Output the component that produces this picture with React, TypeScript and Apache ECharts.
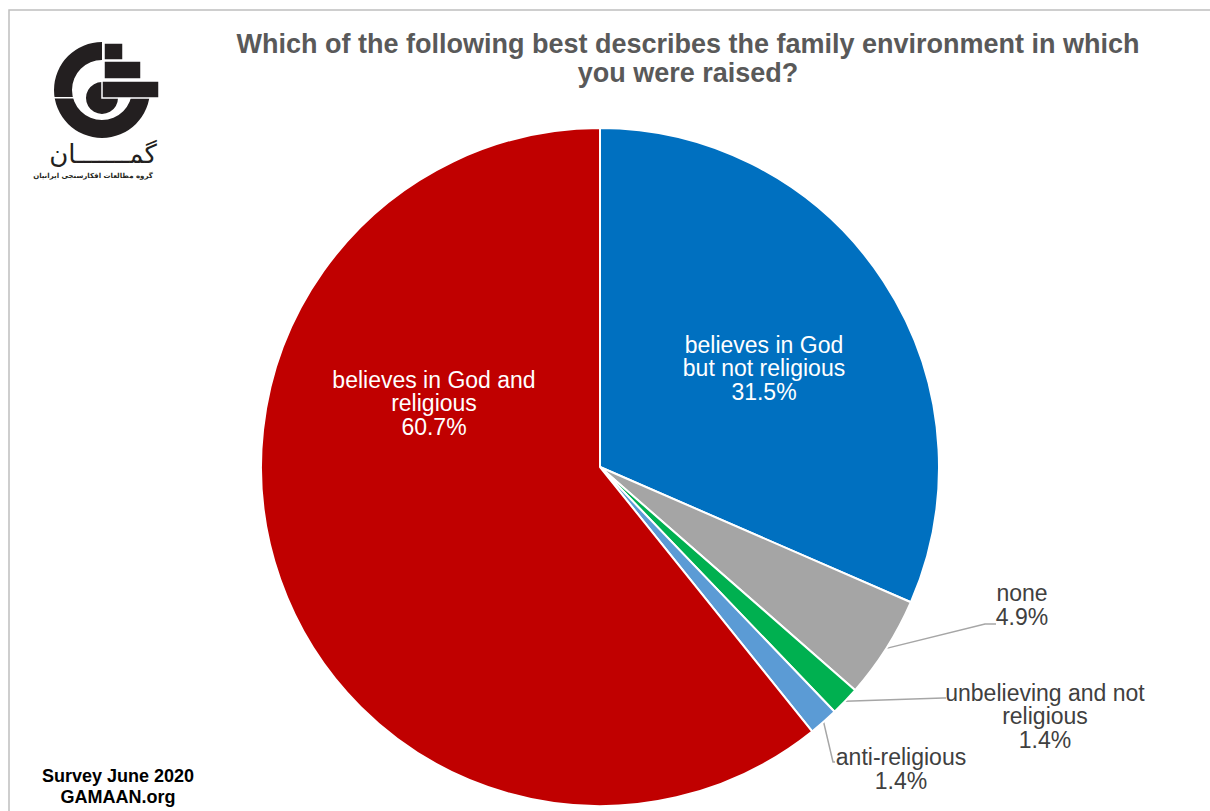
import React, { useEffect, useRef } from "react";
import * as echarts from "echarts";

const categories = [
  "believes in God but not religious",
  "none",
  "unbelieving and not religious",
  "anti-religious",
  "believes in God and religious",
];
const values = [31.5, 4.9, 1.4, 1.4, 60.7];
const labelTexts = [
  "believes in God\nbut not religious",
  "none",
  "unbelieving and not\nreligious",
  "anti-religious",
  "believes in God and\nreligious",
];
const colors = ["#0070C0", "#A5A5A5", "#00B050", "#5B9BD5", "#C00000"];
const titleLines = [
  "Which of the following best describes the family environment in which",
  "you were raised?",
];
const footerLines = ["Survey June 2020", "GAMAAN.org"];

const CX = 600;
const CY = 467;
const R = 339;

const labelPos = [
  { x: 764, y: 368 },
  { x: 1022, y: 605 },
  { x: 1045, y: 716 },
  { x: 901, y: 769 },
  { x: 434, y: 403 },
];
const elbows: Record<number, number[][]> = {
  1: [[985, 624], [996, 624]],
  2: [[943, 698], [946, 698]],
  3: [[833, 762], [835, 762]],
};

const total = values.reduce((a, b) => a + b, 0);
function edgePoint(i: number): number[] {
  let cum = 0;
  for (let k = 0; k < i; k++) cum += values[k];
  const a = ((90 - ((cum + values[i] / 2) / total) * 360) * Math.PI) / 180;
  return [CX + R * Math.cos(a), CY - R * Math.sin(a)];
}

const INK = "#231f20";

export default function App() {
  const ref = useRef<HTMLDivElement>(null);
  useEffect(() => {
    if (!ref.current) return;
    const chart = echarts.init(ref.current, null, { renderer: "svg" });
    const data = categories.map((name, i) => {
      const inside = i === 0 || i === 4;
      return {
        name,
        value: values[i],
        itemStyle: { color: colors[i] },
        label: {
          position: inside ? "inside" : "outside",
          color: inside ? "#ffffff" : "#404040",
        },
        labelLine: { show: !inside },
      };
    });
    chart.setOption({
      animation: false,
      backgroundColor: "#ffffff",
      graphic: [
        {
          type: "rect",
          z: 0,
          shape: { x: 9, y: 10, width: 1230, height: 830 },
          style: { fill: "none", stroke: "#bfbfbf", lineWidth: 1.5 },
        },
        {
          type: "text",
          x: 688,
          y: 58,
          style: {
            text: titleLines.join("\n"),
            fontFamily: "Liberation Sans, Arial, sans-serif",
            fontWeight: "bold",
            fontSize: 27,
            lineHeight: 29,
            fill: "#595959",
            textAlign: "center",
            textVerticalAlign: "middle",
          },
        },
        {
          type: "text",
          x: 118,
          y: 786,
          style: {
            text: footerLines.join("\n"),
            fontFamily: "Liberation Sans, Arial, sans-serif",
            fontWeight: "bold",
            fontSize: 18,
            lineHeight: 21,
            fill: "#000000",
            textAlign: "center",
            textVerticalAlign: "middle",
          },
        },
        // logo
        {
          type: "group",
          children: [
            {
              type: "sector",
              shape: { cx: 102, cy: 90, r: 48, r0: 30, startAngle: 0, endAngle: Math.PI * 1.5, clockwise: true },
              style: { fill: INK },
            },
            {
              type: "rect",
              shape: { x: 50, y: 97, width: 26, height: 1.5 },
              style: { fill: "#ffffff" },
            },
            {
              type: "circle",
              shape: { cx: 102, cy: 98, r: 16 },
              style: { fill: INK },
            },
            {
              type: "rect",
              shape: { x: 104, y: 43, width: 19, height: 17 },
              style: { fill: INK, stroke: "#ffffff", lineWidth: 1.5 },
            },
            {
              type: "rect",
              shape: { x: 104, y: 61, width: 37, height: 18 },
              style: { fill: INK, stroke: "#ffffff", lineWidth: 1.5 },
            },
            {
              type: "rect",
              shape: { x: 102, y: 81, width: 57, height: 17 },
              style: { fill: INK, stroke: "#ffffff", lineWidth: 1.5 },
            },
            {
              type: "text",
              x: 103,
              y: 154,
              style: {
                text: "گمـــــــان",
                fontFamily: "DejaVu Sans, Noto Sans, sans-serif",
                fontSize: 26,
                fill: INK,
                textAlign: "center",
                textVerticalAlign: "middle",
              },
            },
            {
              type: "text",
              x: 93,
              y: 176,
              style: {
                text: "گروه مطالعات افکارسنجی ایرانیان",
                fontFamily: "DejaVu Sans, Noto Sans, sans-serif",
                fontSize: 7,
                fontWeight: "bold",
                fill: INK,
                textAlign: "center",
                textVerticalAlign: "middle",
              },
            },
          ],
        },
      ],
      series: [
        {
          type: "pie",
          center: [CX, CY],
          radius: [0, R],
          startAngle: 90,
          clockwise: true,
          avoidLabelOverlap: false,
          itemStyle: { borderColor: "#ffffff", borderWidth: 2 },
          label: {
            show: true,
            fontFamily: "Liberation Sans, Arial, sans-serif",
            fontSize: 23,
            lineHeight: 23.5,
            align: "center",
            formatter: (p: any) => `${labelTexts[p.dataIndex]}\n${values[p.dataIndex]}%`,
          },
          labelLine: {
            show: true,
            lineStyle: { color: "#a6a6a6", width: 1.5 },
          },
          labelLayout: (p: any) => {
            const i = p.dataIndex;
            const res: any = {
              x: labelPos[i].x,
              y: labelPos[i].y,
              align: "center",
              verticalAlign: "middle",
            };
            if (elbows[i]) {
              res.labelLinePoints = [edgePoint(i), elbows[i][0], elbows[i][1]];
            }
            return res;
          },
          emphasis: { disabled: true },
          data,
        },
      ],
    });
    return () => chart.dispose();
  }, []);
  return (
    <div
      ref={ref}
      style={{ position: "absolute", left: 0, top: 0, width: 1210, height: 811 }}
    />
  );
}
